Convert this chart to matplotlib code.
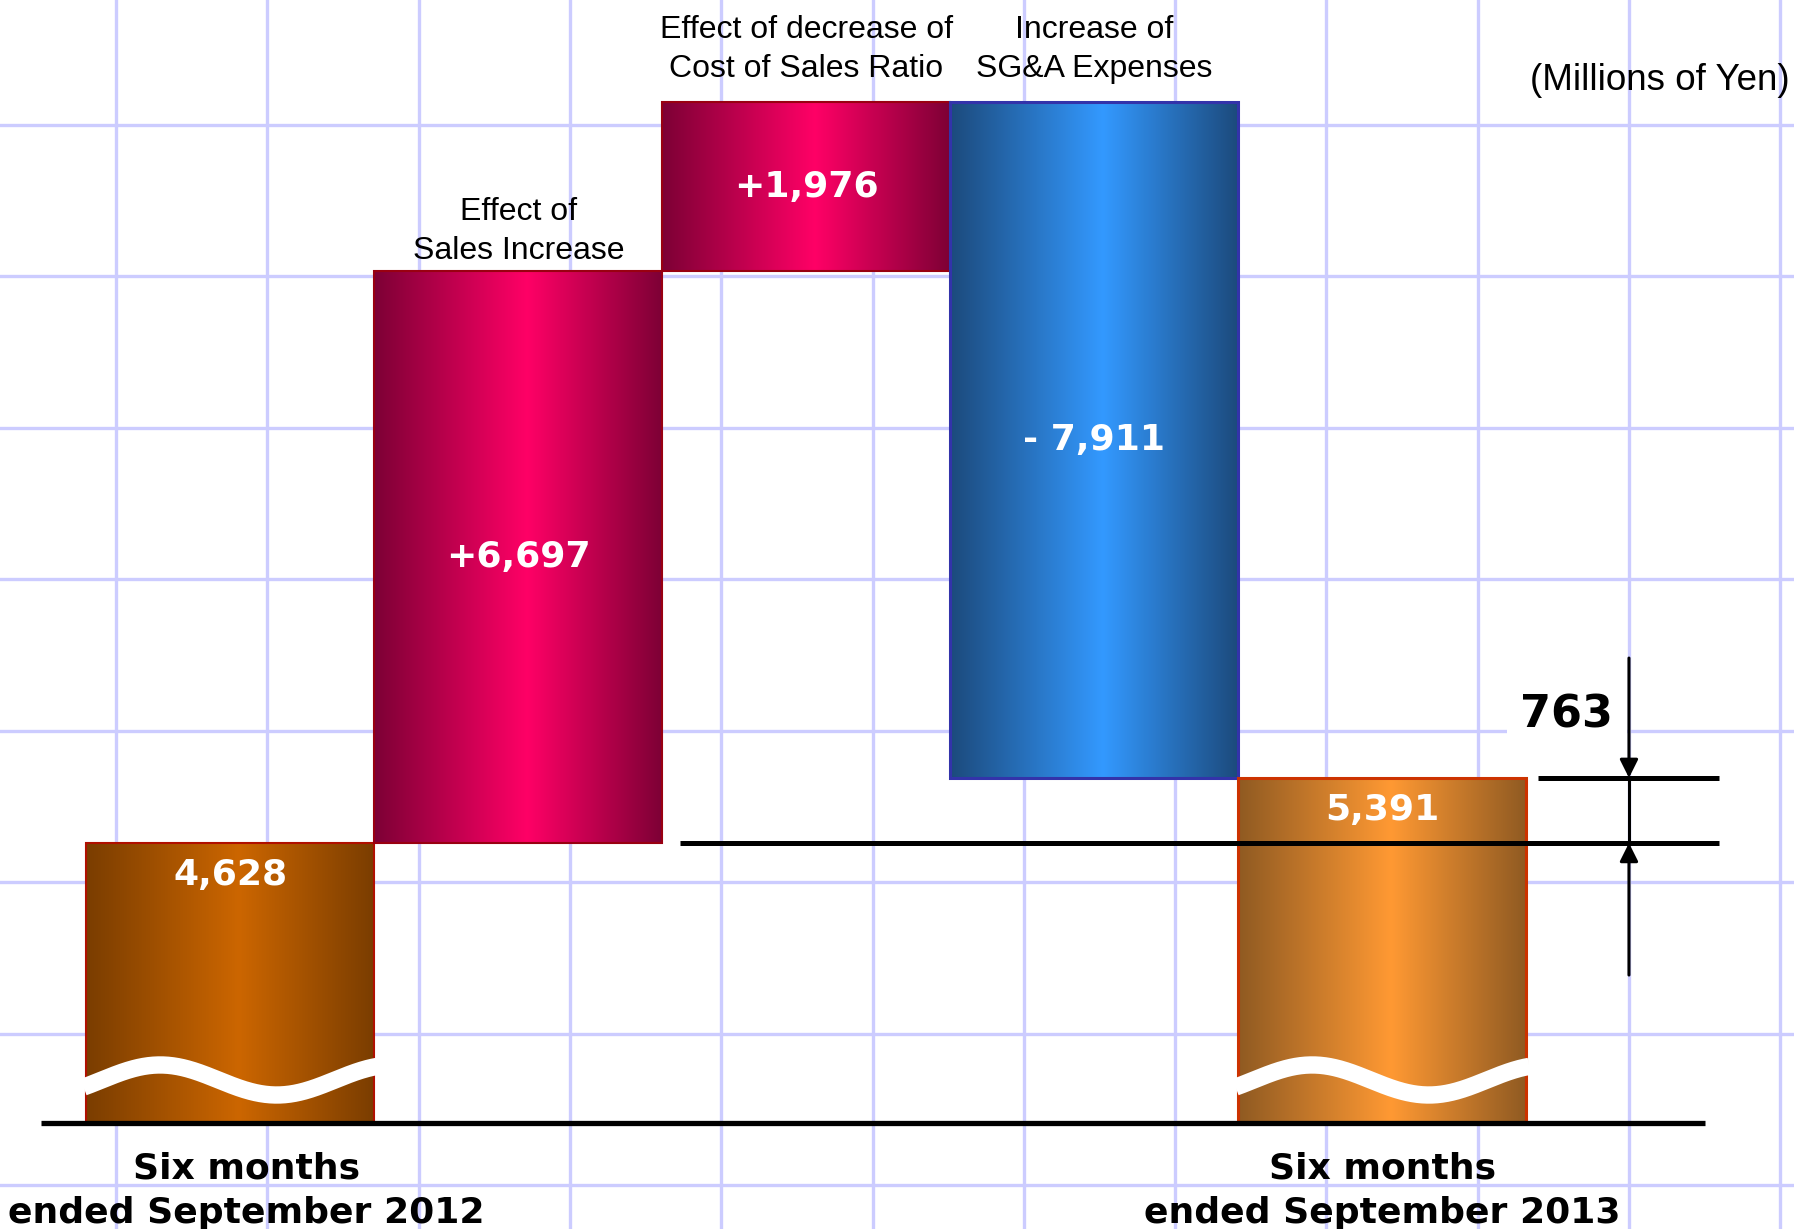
import numpy as np
import matplotlib
matplotlib.use("Agg")
import matplotlib.pyplot as plt
from matplotlib.patches import Rectangle
from matplotlib.colors import LinearSegmentedColormap

# ---------------- data ----------------
categories = ["Six months\nended September 2012",
              "Effect of\nSales Increase",
              "Effect of decrease of\nCost of Sales Ratio",
              "Increase of\nSG&A Expenses",
              "Six months\nended September 2013"]
start_value = 4628
changes = [6697, 1976, -7911]
end_value = 5391
value_labels = ["4,628", "+6,697", "+1,976", "- 7,911", "5,391"]
difference_label = "763"
unit_label = "(Millions of Yen)"

# ---------------- layout / style constants ----------------
W, H = 1794, 1229
AXIS_BREAK = 1349          # value where the (broken) axis baseline sits
Y_LIM = (108, 14500)
X_LIM = (-0.800, 5.429)
BAR_W = 1.0

grad_colors = [("#7a3d00", "#cc6600"),
               ("#7d0035", "#ff0066"),
               ("#7d0035", "#ff0066"),
               ("#1c4a7c", "#3399ff"),
               ("#8f5a22", "#ff9933")]
border_colors = ["#b01000", "#990011", "#990011", "#3333aa", "#cc3300"]
border_lw = [1.5, 1.5, 1.5, 2.2, 2.2]

fig = plt.figure(figsize=(W / 100, H / 100), dpi=100)
fig.patch.set_facecolor("white")

# background grid (decorative, in pixel space)
bg = fig.add_axes([0, 0, 1, 1])
bg.set_xlim(0, W)
bg.set_ylim(H, 0)
bg.axis("off")
for gx in np.arange(116, W, 151.3):
    bg.axvline(gx, color="#ccccff", lw=2.4, zorder=0)
for gy in np.arange(124.5, H, 151.5):
    bg.axhline(gy, color="#ccccff", lw=2.4, zorder=0)

ax = fig.add_axes([0, 0, 1, 1])
ax.patch.set_alpha(0)
ax.axis("off")

# waterfall levels
levels = [start_value]
for c in changes:
    levels.append(levels[-1] + c)
spans = [(AXIS_BREAK, start_value)]
for i, c in enumerate(changes):
    spans.append((min(levels[i], levels[i + 1]), max(levels[i], levels[i + 1])))
spans.append((AXIS_BREAK, end_value))

grad = np.linspace(0, 1, 256).reshape(1, -1)
for i, (lo, hi) in enumerate(spans):
    left = i - BAR_W / 2
    rect = Rectangle((left, lo), BAR_W, hi - lo, facecolor="none",
                     edgecolor=border_colors[i], lw=border_lw[i], zorder=3)
    ax.add_patch(rect)
    edge, mid = grad_colors[i]
    cmap = LinearSegmentedColormap.from_list(f"g{i}", [(0, edge), (0.53, mid), (1, edge)])
    im = ax.imshow(grad, cmap=cmap, extent=[left, left + BAR_W, lo, hi],
                   aspect="auto", interpolation="bicubic", zorder=2)
    im.set_clip_path(rect)

# wavy break marks on the two total bars
WAVE_Y, WAVE_AMP = 1853, 176
for i in (0, len(spans) - 1):
    left = i - BAR_W / 2
    xs = np.linspace(left - 0.01, left + BAR_W + 0.01, 300)
    ys = WAVE_Y + WAVE_AMP * np.cos(2 * np.pi * (xs - left - 0.256) / 0.81)
    ln, = ax.plot(xs, ys, color="white", lw=12.5, solid_capstyle="butt", zorder=4)
    clip = Rectangle((left - 0.01, Y_LIM[0]), BAR_W + 0.02, Y_LIM[1] - Y_LIM[0],
                     transform=ax.transData, facecolor="none", edgecolor="none")
    ln.set_clip_path(clip)

# baseline
ax.plot([-0.658, 5.12], [AXIS_BREAK, AXIS_BREAK], color="black", lw=3.8,
        solid_capstyle="butt", zorder=5)

# value labels
for i, (lo, hi) in enumerate(spans):
    if i in (0, len(spans) - 1):
        ax.annotate(value_labels[i], xy=(i, hi), xytext=(0, -23), textcoords="offset points",
                    ha="center", va="center", color="white", fontsize=26,
                    fontweight="bold", family="DejaVu Sans", zorder=6)
    else:
        ax.text(i, (lo + hi) / 2, value_labels[i], ha="center", va="center",
                color="white", fontsize=26, fontweight="bold",
                family="DejaVu Sans", zorder=6)

# category labels above floating bars
top_offsets = {1: 3.5, 2: 13.0, 3: 13.0}
for i, off in top_offsets.items():
    ax.annotate(categories[i], xy=(i, spans[i][1]), xytext=(0, off),
                textcoords="offset points", ha="center", va="bottom",
                fontsize=23, family="Liberation Sans", color="black",
                linespacing=1.4, zorder=6)

# category labels below the totals
for i, dx in ((0, 11.5), (len(spans) - 1, 0)):
    ax.annotate(categories[i], xy=(i, AXIS_BREAK), xytext=(dx, -48.5),
                textcoords="offset points", ha="center", va="center",
                fontsize=26, fontweight="bold", family="DejaVu Sans",
                color="black", linespacing=1.38, zorder=6)

# difference indicator
ax.plot([1.56, 5.17], [start_value, start_value], color="black", lw=3.6,
        solid_capstyle="butt", zorder=5)
ax.plot([4.54, 5.17], [end_value, end_value], color="black", lw=3.6,
        solid_capstyle="butt", zorder=5)
AX_X = 4.856
ax.plot([AX_X, AX_X], [start_value, end_value], color="black", lw=2.2, zorder=7)
arrow_kw = dict(arrowstyle="-|>,head_length=1.1,head_width=0.55", color="black",
                lw=2.2, shrinkA=0, shrinkB=0, mutation_scale=10)
ax.annotate("", xy=(AX_X, end_value), xytext=(AX_X, 6794), arrowprops=arrow_kw, zorder=7)
ax.annotate("", xy=(AX_X, start_value), xytext=(AX_X, 3082), arrowprops=arrow_kw, zorder=7)
ax.text(4.64, 6127, difference_label, ha="center", va="center", fontsize=32,
        fontweight="bold", family="DejaVu Sans", color="black", zorder=6,
        bbox=dict(boxstyle="square,pad=0.3", facecolor="white", edgecolor="none"))

fig.text(1790 / W, 1 - 80 / H, unit_label, ha="right", va="center",
         fontsize=26.5, family="Liberation Sans", color="black")

ax.set_xlim(*X_LIM)
ax.set_ylim(*Y_LIM)

fig.savefig("out.png", dpi=100, facecolor="white")
